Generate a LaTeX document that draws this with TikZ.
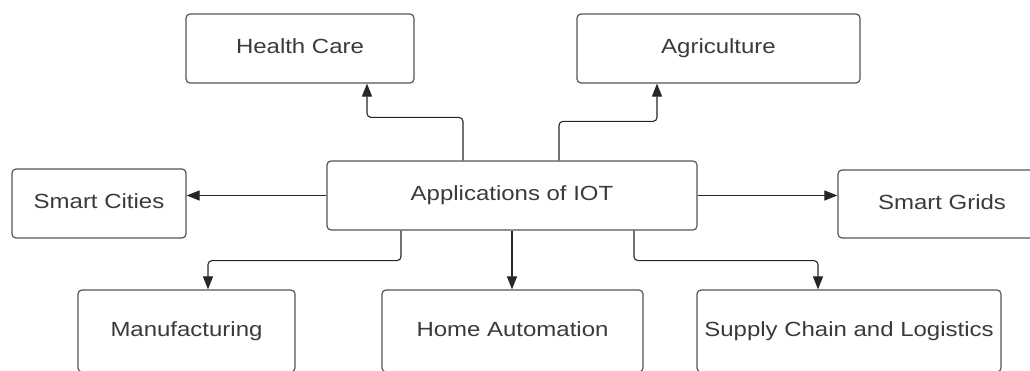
\documentclass[tikz,border=0pt]{standalone}
\usepackage{fontspec}
\setmainfont{Liberation Sans}
\usetikzlibrary{arrows.meta}
\definecolor{boxline}{HTML}{555555}
\definecolor{boxtext}{HTML}{3A3A3A}
\newcommand{\widetext}[1]{\scalebox{1.17}[1]{#1}}
\tikzset{
  appbox/.style={draw=boxline, line width=1.2pt, rounded corners=4pt, inner sep=0pt,
    text=boxtext, font=\fontsize{20.5}{24}\selectfont, text height=15pt, text depth=4.5pt},
  link/.style={draw=black!85, line width=1.1pt, rounded corners=4pt,
    -{Triangle[length=13pt,width=10pt]}}
}
\begin{document}
\begin{tikzpicture}[x=1pt,y=-1pt]
        \useasboundingbox (0,0) rectangle (1030,371);
        % Boxes: name / centre x / centre y / width / height / text
            \foreach \name/\cx/\cy/\bw/\bh/\txt in {
                health/300/48.5/228/69/Health Care,
                agri/718.5/48.5/283/69/Agriculture,
                cities/99/203.5/174/69/Smart Cities,
                iot/512/195.5/370/69/Applications of IOT,
                grids/942/204/208/68/Smart Grids,
                manuf/186.5/331/217/82/Manufacturing,
                home/512.5/331/261/82/Home Automation,
                supply/849/331/304/82/Supply Chain and Logistics} {
                \node[appbox, minimum width=\bw pt, minimum height=\bh pt] (\name) at (\cx,\cy) {\widetext{\txt}};
            }
        % Upper connectors
            \draw[link] ([xshift=-49pt]iot.north) -- ++(0,-43) -| ([xshift=67pt]health.south);
            \draw[link] ([xshift=47pt]iot.north) -- ++(0,-39) -| ([xshift=-61.5pt]agri.south);
        % Side connectors
            \draw[link] (iot.west) -- (iot.west -| cities.east);
            \draw[link] (iot.east) -- (iot.east -| grids.west);
        % Lower connectors
            \draw[link] ([xshift=-111pt]iot.south) -- ++(0,30) -| ([xshift=21.5pt]manuf.north);
            \draw[link] (iot.south) -- (iot.south |- home.north);
            \draw[link] ([xshift=122pt]iot.south) -- ++(0,30) -| ([xshift=-31pt]supply.north);
\end{tikzpicture}
\end{document}
